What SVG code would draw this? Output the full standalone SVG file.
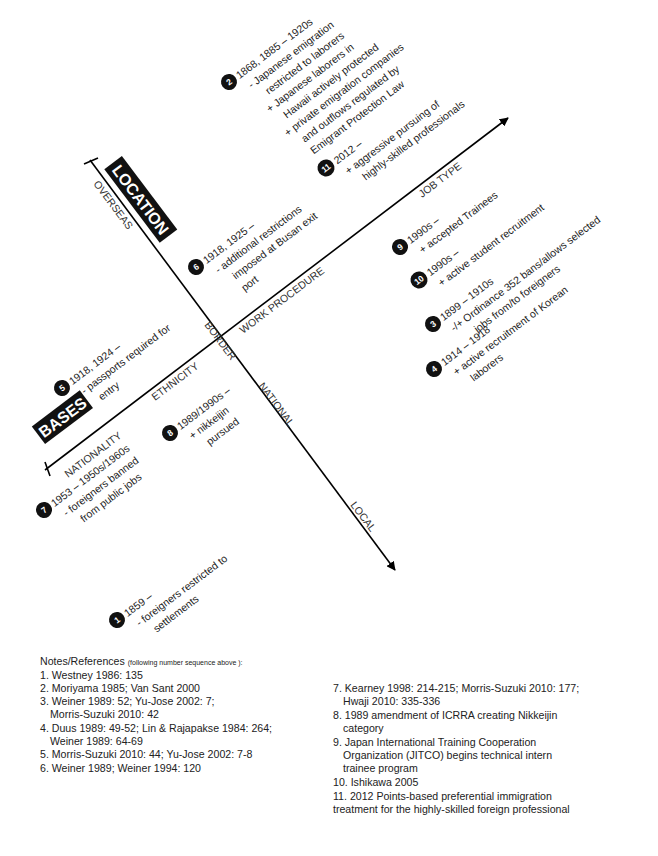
<svg xmlns="http://www.w3.org/2000/svg" width="658" height="856" viewBox="0 0 658 856">
<style>
text{font-family:"Liberation Sans",Arial,sans-serif;fill:#222}
.a{font-size:10.5px}
.ax{font-size:10.5px;fill:#333}
.n{font-size:10.6px}
.s{font-size:7px}
.num{font-size:8.5px;font-weight:bold;fill:#fff;text-anchor:middle}
.lab{font-size:16px;font-weight:bold;fill:#fff;text-anchor:middle}
line{stroke:#000;stroke-width:1.6}
</style>
<defs>
<marker id="ar" viewBox="0 0 10 10" refX="9" refY="5" markerWidth="9" markerHeight="9" orient="auto" markerUnits="userSpaceOnUse"><path d="M0,0 L10,5 L0,10 z" fill="#000"/></marker>
</defs>
<rect width="658" height="856" fill="#fff"/>
<g id="connectors">
<line x1="90" y1="160" x2="395" y2="570" marker-end="url(#ar)"/>
<line x1="45" y1="470" x2="508" y2="118" marker-end="url(#ar)"/>
<line x1="84" y1="164" x2="98" y2="158"/>
<line x1="45" y1="462" x2="50" y2="476"/>
</g>
<g id="location"><g transform="translate(140,200) rotate(53)"><rect x="-46" y="-12" width="92" height="22" fill="#111"/><text class="lab" y="5">LOCATION</text></g>
<text class="ax" transform="translate(93,184) rotate(53)">OVERSEAS</text>
<text class="ax" transform="translate(204,325) rotate(53)">BORDER</text>
<text class="ax" transform="translate(258,386) rotate(53)">NATIONAL</text>
<text class="ax" transform="translate(350,505) rotate(53)">LOCAL</text></g>
<g id="bases"><g transform="translate(63,418) rotate(-37)"><rect x="-30" y="-12" width="60" height="22" fill="#111"/><text class="lab" y="5">BASES</text></g>
<text class="ax" transform="translate(68,478) rotate(-37)">NATIONALITY</text>
<text class="ax" transform="translate(155,401) rotate(-37)">ETHNICITY</text>
<text class="ax" transform="translate(243,334) rotate(-37)">WORK PROCEDURE</text>
<text class="ax" transform="translate(422,198) rotate(-37)">JOB TYPE</text></g>
<g id="n2" transform="translate(229,82) rotate(-37)"><circle r="8" fill="#111"/><text class="num" y="3">2</text>
<text class="a" x="10" y="4">1868, 1885 – 1920s</text><text class="a" x="14" y="19">- Japanese emigration</text><text class="a" x="24" y="34">restricted to laborers</text><text class="a" x="14" y="49">+ Japanese laborers in</text><text class="a" x="24" y="64">Hawaii actively protected</text><text class="a" x="14" y="79">+ private emigration companies</text><text class="a" x="24" y="94">and outflows regulated by</text><text class="a" x="24" y="109">Emigrant Protection Law</text></g>
<g id="n11" transform="translate(326,168) rotate(-37)"><circle r="8.5" fill="#111"/><text class="num" y="3">11</text>
<text class="a" x="11" y="4">2012 –</text><text class="a" x="14" y="19">+ aggressive pursuing of</text><text class="a" x="24" y="34">highly-skilled professionals</text></g>
<g id="n6" transform="translate(196,267) rotate(-37)"><circle r="8" fill="#111"/><text class="num" y="3">6</text>
<text class="a" x="10" y="4">1918, 1925 –</text><text class="a" x="14" y="19">- additional restrictions</text><text class="a" x="24" y="34">imposed at Busan exit</text><text class="a" x="24" y="49">port</text></g>
<g id="n9" transform="translate(400,247) rotate(-37)"><circle r="8" fill="#111"/><text class="num" y="3">9</text>
<text class="a" x="10" y="4">1990s –</text><text class="a" x="14" y="19">+ accepted Trainees</text></g>
<g id="n10" transform="translate(419,280) rotate(-37)"><circle r="8.5" fill="#111"/><text class="num" y="3">10</text>
<text class="a" x="11" y="4">1990s –</text><text class="a" x="14" y="19">+ active student recruitment</text></g>
<g id="n3" transform="translate(433,324) rotate(-37)"><circle r="8" fill="#111"/><text class="num" y="3">3</text>
<text class="a" x="10" y="4">1899 – 1910s</text><text class="a" x="12" y="19">-/+ Ordinance 352 bans/allows selected</text><text class="a" x="30" y="34">jobs from/to foreigners</text></g>
<g id="n4" transform="translate(434,369) rotate(-37)"><circle r="8" fill="#111"/><text class="num" y="3">4</text>
<text class="a" x="10" y="4">1914 – 1918</text><text class="a" x="14" y="19">+ active recruitment of Korean</text><text class="a" x="24" y="34">laborers</text></g>
<g id="n5" transform="translate(62,388) rotate(-37)"><circle r="8" fill="#111"/><text class="num" y="3">5</text>
<text class="a" x="10" y="4">1918, 1924 –</text><text class="a" x="14" y="19">- passports required for</text><text class="a" x="24" y="34">entry</text></g>
<g id="n8" transform="translate(170,433) rotate(-37)"><circle r="8" fill="#111"/><text class="num" y="3">8</text>
<text class="a" x="10" y="4">1989/1990s –</text><text class="a" x="14" y="19">+ nikkeijin</text><text class="a" x="24" y="34">pursued</text></g>
<g id="n7" transform="translate(44,510) rotate(-37)"><circle r="8" fill="#111"/><text class="num" y="3">7</text>
<text class="a" x="10" y="4">1953 – 1950s/1960s</text><text class="a" x="14" y="19">- foreigners banned</text><text class="a" x="24" y="34">from public jobs</text></g>
<g id="n1" transform="translate(117,620) rotate(-37)"><circle r="8" fill="#111"/><text class="num" y="3">1</text>
<text class="a" x="10" y="4">1859 –</text><text class="a" x="14" y="19">- foreigners restricted to</text><text class="a" x="24" y="34">settlements</text></g>
<g id="notes">
<text class="n" x="40" y="665">Notes/References <tspan class="s">(following number sequence above ):</tspan></text>
<text class="n" x="40" y="679">1. Westney 1986: 135</text>
<text class="n" x="40" y="692">2. Moriyama 1985; Van Sant 2000</text>
<text class="n" x="40" y="705">3. Weiner 1989: 52; Yu-Jose 2002: 7;</text>
<text class="n" x="50" y="718">Morris-Suzuki 2010: 42</text>
<text class="n" x="40" y="732">4. Duus 1989: 49-52; Lin &amp; Rajapakse 1984: 264;</text>
<text class="n" x="50" y="745">Weiner 1989: 64-69</text>
<text class="n" x="40" y="758">5. Morris-Suzuki 2010: 44; Yu-Jose 2002: 7-8</text>
<text class="n" x="40" y="772">6. Weiner 1989; Weiner 1994: 120</text>
<text class="n" x="333" y="692">7. Kearney 1998: 214-215; Morris-Suzuki 2010: 177;</text>
<text class="n" x="343" y="705">Hwaji 2010: 335-336</text>
<text class="n" x="333" y="719">8. 1989 amendment of ICRRA creating Nikkeijin</text>
<text class="n" x="343" y="732">category</text>
<text class="n" x="333" y="746">9. Japan International Training Cooperation</text>
<text class="n" x="343" y="759">Organization (JITCO) begins technical intern</text>
<text class="n" x="343" y="772">trainee program</text>
<text class="n" x="333" y="786">10. Ishikawa 2005</text>
<text class="n" x="333" y="800">11. 2012 Points-based preferential immigration</text>
<text class="n" x="333" y="813">treatment for the highly-skilled foreign professional</text>
</g>
</svg>
